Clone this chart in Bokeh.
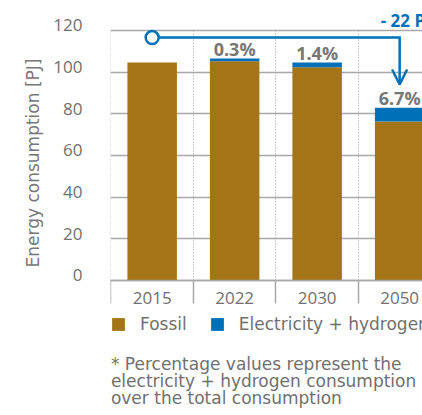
from bokeh.plotting import figure
from bokeh.models import (Range1d, FixedTicker, Legend, LegendItem, ColumnDataSource,
                          Arrow, OpenHead, LinearAxis, Title, Label)
from bokeh.core.properties import value
from bokeh.embed import file_html
from bokeh.resources import INLINE

# ---- data ----
years = ["2015", "2022", "2030", "2050"]
fossil = [104.5, 105.1, 102.3, 76.3]
elec_h2 = [0.0, 1.4, 2.3, 6.5]
pct_labels = ["", "0.3%", "1.4%", "6.7%"]
y_ticks = [0, 20, 40, 60, 80, 100, 120]
arrow_level = 116.5
arrow_tip = 94.0
delta_label = "- 22 PJ"
legend_labels = ["Fossil", "Electricity + hydrogen*"]
footnote_lines = ["* Percentage values represent the",
                  "electricity + hydrogen consumption",
                  "over the total consumption"]

# ---- styling ----
BROWN = "#a37517"
BLUE = "#0071b9"
GRAY_TXT = "#707070"
GRID = "#a8a8a8"
NUM_FONT = "Open Sans"
TXT_FONT = "DejaVu Sans"

pos = list(range(len(years)))
bounds = [i - 0.5 for i in range(len(years) + 1)]
totals = [f + e for f, e in zip(fossil, elec_h2)]

src = ColumnDataSource(dict(x=pos, fossil=fossil, total=totals, pct=pct_labels))

PX = 2.085           # pixels per PJ
Y_END = 280 / PX
Y_START = -135 / PX
p = figure(width=422, height=415, output_backend="svg", toolbar_location=None,
           x_range=Range1d(-0.505, 3.277), y_range=Range1d(Y_START, Y_END),
           y_axis_location=None, min_border_left=110, min_border_right=0,
           min_border_top=0, min_border_bottom=0, outline_line_color=None)
p.extra_y_ranges = {"lab": Range1d(Y_START - 2.4, Y_END - 2.4)}

r1 = p.vbar(x="x", width=0.6, bottom=0, top="fossil", source=src,
            fill_color=BROWN, line_color=None)
r2 = p.vbar(x="x", width=0.6, bottom="fossil", top="total", source=src,
            fill_color=BLUE, line_color=None)

# grids
p.ygrid.ticker = FixedTicker(ticks=y_ticks)
p.ygrid.grid_line_color = GRID
p.ygrid.grid_line_width = 1.3
p.xgrid.ticker = FixedTicker(ticks=bounds)
p.xgrid.grid_line_color = "#9a9a9a"
p.xgrid.grid_line_width = 1
p.xgrid.grid_line_dash = "1 2"
p.xgrid.cross_bounds = (0, 120)

# x axis, drawn at y = 0
xa = p.xaxis[0]
xa.fixed_location = 0
xa.ticker = FixedTicker(ticks=pos, minor_ticks=bounds)
xa.major_label_overrides = {i: y for i, y in enumerate(years)}
xa.major_tick_line_color = None
xa.major_tick_out = 0
xa.major_tick_in = 0
xa.minor_tick_out = 23
xa.minor_tick_in = 0
xa.minor_tick_line_color = GRID
xa.minor_tick_line_width = 1.5
xa.axis_line_color = GRID
xa.axis_line_width = 1.5
xa.major_label_standoff = -12
xa.major_label_text_font = NUM_FONT
xa.major_label_text_font_size = "17px"
xa.major_label_text_color = GRAY_TXT

# y axis (label range offset so labels sit slightly above the lines)
ya = LinearAxis(y_range_name="lab", ticker=FixedTicker(ticks=y_ticks))
ya.axis_line_color = None
ya.major_tick_line_color = None
ya.minor_tick_line_color = None
ya.major_tick_out = 0
ya.major_tick_in = 0
ya.major_label_standoff = 28
ya.major_label_text_font = NUM_FONT
ya.major_label_text_font_size = "17px"
ya.major_label_text_color = GRAY_TXT
p.add_layout(ya, "left")

p.add_layout(Title(text="Energy consumption [PJ]", align="left", offset=148,
                   standoff=16, vertical_align="bottom", text_font=TXT_FONT,
                   text_font_size="17px", text_font_style="normal",
                   text_color="#777777"), "left")

# percentage labels
p.text(x="x", y="total", text="pct", source=src, text_align="center",
       text_baseline="alphabetic", y_offset=-9.5, text_font=value(NUM_FONT),
       text_font_style="bold", text_font_size="18px", text_color="#777777")

# arrow
p.line(x=[pos[0], pos[-1], pos[-1]], y=[arrow_level, arrow_level, arrow_tip + 1],
       line_color=BLUE, line_width=2.5, line_join="miter")
p.add_layout(Arrow(x_start=pos[-1], y_start=arrow_level, x_end=pos[-1], y_end=arrow_tip,
                   line_alpha=0,
                   end=OpenHead(size=15, line_color=BLUE, line_width=2.5)))
p.scatter(x=[pos[0]], y=[arrow_level], size=13, marker="circle",
          fill_color="white", line_color=BLUE, line_width=2.5)
p.text(x=[pos[-1]], y=[arrow_level], text=[delta_label], text_align="left",
       text_baseline="alphabetic", x_offset=-19, y_offset=-17.5,
       text_font=value(NUM_FONT), text_font_style="bold", text_font_size="17px",
       text_color=BLUE)

# legend inside the (extended) frame, below the axis
legend = Legend(items=[LegendItem(label=legend_labels[0], renderers=[r1]),
                       LegendItem(label=legend_labels[1], renderers=[r2])],
                orientation="horizontal", location=(0, 81),
                glyph_width=16, glyph_height=16, label_standoff=14, spacing=22,
                padding=0, margin=0, border_line_color=None,
                background_fill_alpha=0, label_text_font=TXT_FONT,
                label_text_font_size="17px", label_text_color=GRAY_TXT,
                label_height=16)
p.add_layout(legend, "center")

# footnote
note_y = [-40.2, -48.2, -56.4]
for line, yy in zip(footnote_lines, note_y):
    p.add_layout(Label(x=-0.5, y=yy, text=line, text_align="left",
                       text_baseline="alphabetic", text_font=TXT_FONT,
                       text_font_size="17px", text_color=GRAY_TXT))

open("out.html", "w").write(file_html(p, INLINE))
